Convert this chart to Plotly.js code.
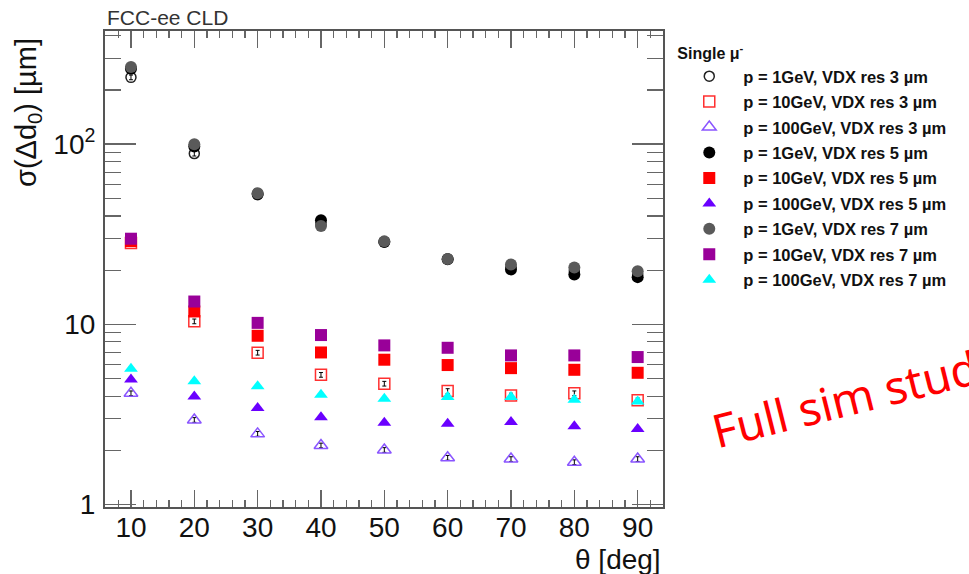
<!DOCTYPE html>
<html>
<head>
<meta charset="utf-8">
<script src="https://cdn.plot.ly/plotly-3.0.1.min.js"></script>
<style>html,body{margin:0;padding:0;background:#fff;}#chart{width:969px;height:574px;}</style>
</head>
<body>
<div id="chart"></div>
<script>
// theta [deg]
const theta = [10, 20, 30, 40, 50, 60, 70, 80, 90];

// sigma(Δd0) [µm]
const p1_res3   = [235, 88.7, 52.5, 36.0, 28.8, 23.1, 20.8, 19.8, 19.0];
const p10_res3  = [28.3, 10.4, 6.97, 5.25, 4.69, 4.27, 4.03, 4.15, 3.79];
const p100_res3 = [4.15, 2.95, 2.47, 2.13, 2.01, 1.82, 1.79, 1.72, 1.79];
const p1_res5   = [262, 97, 53, 37.8, 28.7, 23.0, 20.2, 18.9, 18.3];
const p10_res5  = [29.0, 11.8, 8.65, 6.99, 6.37, 5.95, 5.72, 5.60, 5.39];
const p100_res5 = [4.94, 3.98, 3.44, 3.05, 2.85, 2.81, 2.87, 2.72, 2.63];
const p1_res7   = [268, 100, 53.5, 35.2, 28.9, 23.1, 21.5, 20.7, 19.7];
const p10_res7  = [29.9, 13.4, 10.2, 8.73, 7.65, 7.42, 6.73, 6.73, 6.59];
const p100_res7 = [5.68, 4.84, 4.54, 4.07, 3.87, 3.95, 3.95, 3.82, 3.73];

const names = [
  "p = 1GeV, VDX res 3 µm",
  "p = 10GeV, VDX res 3 µm",
  "p = 100GeV, VDX res 3 µm",
  "p = 1GeV, VDX res 5 µm",
  "p = 10GeV, VDX res 5 µm",
  "p = 100GeV, VDX res 5 µm",
  "p = 1GeV, VDX res 7 µm",
  "p = 10GeV, VDX res 7 µm",
  "p = 100GeV, VDX res 7 µm"
];
const series = [p1_res3, p10_res3, p100_res3, p1_res5, p10_res5, p100_res5, p1_res7, p10_res7, p100_res7];
const symbols = ["circle-open", "square-open", "triangle-up-open", "circle", "square", "triangle-up", "circle", "square", "triangle-up"];
const colors = ["#222222", "#ff3030", "#8a55ff", "#000000", "#ff0000", "#6a00ff", "#5a5a5a", "#990099", "#00ffff"];
const sizes = [10, 11, 12, 12, 12, 12, 12, 12, 12];
const openMarker = [true, true, true, false, false, false, false, false, false];

const traces = series.map((ys, i) => {
  const t = {
    x: theta, y: ys, type: "scatter", mode: "markers",
    name: names[i], legendgroup: "g" + i,
    marker: {symbol: symbols[i], color: colors[i], size: sizes[i],
             line: {color: colors[i], width: openMarker[i] ? 1.5 : 0}},
    cliponaxis: false
  };
  if (openMarker[i]) {
    t.error_y = {type: "percent", value: 3, color: "#000", thickness: 1, width: 2};
  }
  return t;
});

const tickFont = {family: "Liberation Sans, Arial, sans-serif", size: 28, color: "#111"};

const layout = {
  width: 969, height: 574,
  margin: {l: 105, r: 306, t: 31, b: 67},
  paper_bgcolor: "#fff", plot_bgcolor: "#fff",
  showlegend: true,
  xaxis: {
    range: [5.9, 94], tickvals: [10, 20, 30, 40, 50, 60, 70, 80, 90],
    ticks: "inside", ticklen: 17, tickwidth: 1.5, tickcolor: "#666",
    minor: {ticks: "inside", ticklen: 7, dtick: 2, tickcolor: "#666", tickwidth: 1.2},
    showline: true, linecolor: "#555", linewidth: 2, mirror: "ticks",
    showgrid: false, zeroline: false, tickfont: tickFont, ticklabelstandoff: -6
  },
  yaxis: {
    type: "log", range: [Math.log10(0.97), Math.log10(425)],
    tickmode: "array", tickvals: [1, 10, 100], ticktext: ["1", "10", "10<sup>2</sup>"],
    ticks: "inside", ticklen: 31, tickwidth: 1.5, tickcolor: "#666",
    minor: {ticks: "inside", ticklen: 16, dtick: "D1", tickcolor: "#666", tickwidth: 1.2},
    showline: true, linecolor: "#555", linewidth: 2, mirror: "ticks",
    showgrid: false, zeroline: false, tickfont: tickFont, ticklabelstandoff: 2
  },
  legend: {
    x: 1.022, xanchor: "left", y: 0.985, yanchor: "top",
    bgcolor: "rgba(0,0,0,0)", borderwidth: 0,
    font: {family: "Liberation Sans, Arial, sans-serif", size: 16.5, color: "#111", weight: "bold"},
    title: {text: "Single μ<sup>-</sup>", font: {family: "Liberation Sans, Arial, sans-serif", size: 16, color: "#111", weight: "bold"}},
    tracegroupgap: 1, itemwidth: 58
  },
  annotations: [
    {text: "FCC-ee CLD", xref: "paper", yref: "paper", x: 0, y: 1, xanchor: "left", yanchor: "bottom", yshift: 0,
     showarrow: false, font: {family: "Liberation Sans, Arial, sans-serif", size: 21, color: "#333"}},
    {text: "σ(Δd<sub>0</sub>) [µm]", xref: "paper", yref: "paper", x: 0, xshift: -77, y: (507 - 113) / 476,
     xanchor: "center", yanchor: "middle", textangle: -90, showarrow: false,
     font: {family: "Liberation Sans, Arial, sans-serif", size: 29, color: "#111"}},
    {text: "θ [deg]", xref: "paper", yref: "paper", x: 1, y: 0, yshift: -35, xanchor: "right", yanchor: "top",
     showarrow: false, font: {family: "Liberation Sans, Arial, sans-serif", size: 28, color: "#111"}},
    {text: "Full sim studies", xref: "paper", yref: "paper", x: (874 - 105) / 558, y: (507 - 391) / 476,
     xanchor: "center", yanchor: "middle", textangle: -14, showarrow: false,
     font: {family: "Noto Sans, DejaVu Sans, sans-serif", size: 46, color: "#ff0000"}}
  ]
};

Plotly.newPlot("chart", traces, layout, {displayModeBar: false, staticPlot: true});
</script>
</body>
</html>
